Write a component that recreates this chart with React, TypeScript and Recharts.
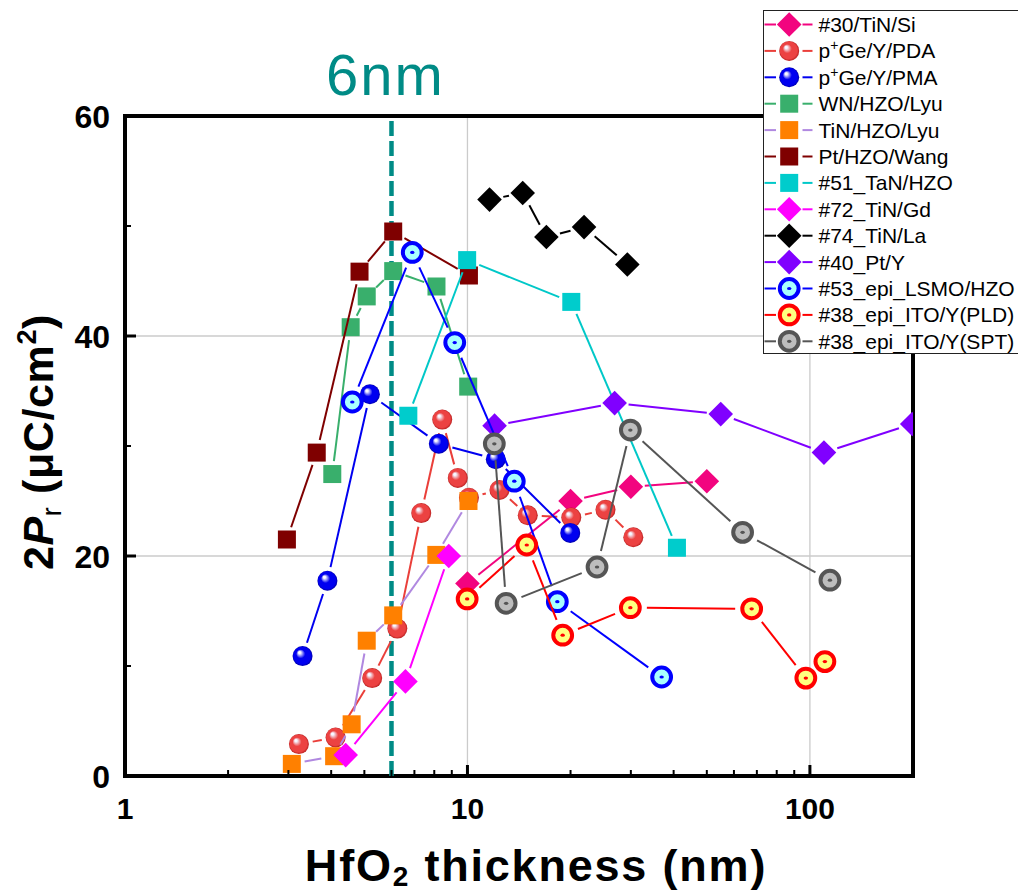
import React from 'react';
import {
  ScatterChart,
  Scatter,
  XAxis,
  YAxis,
  CartesianGrid,
  ReferenceLine,
  ReferenceArea,
  Legend,
} from 'recharts';

const FONT = '"Liberation Sans", Arial, Helvetica, sans-serif';

// ---------------- data (HfO2 thickness in nm, 2Pr in uC/cm2) ----------------
const tinSiX = [10, 20, 30, 50];
const tinSiY = [17.5, 25.0, 26.3, 26.8];

const pdaX = [3.22, 4.12, 5.27, 6.24, 7.33, 8.44, 9.37, 10.1, 12.4, 15.0, 20.1, 25.3, 30.5];
const pdaY = [2.9, 3.5, 8.9, 13.4, 23.9, 32.4, 27.1, 25.3, 26.0, 23.7, 23.5, 24.2, 21.7];

const pmaX = [3.3, 3.9, 5.19, 8.25, 12.1, 19.96];
const pmaY = [10.9, 17.75, 34.7, 30.2, 28.8, 22.1];

const wnX = [4.03, 4.56, 5.08, 6.07, 8.12, 10.05];
const wnY = [27.45, 40.8, 43.6, 45.9, 44.5, 35.4];

const tinHzoX = [3.07, 4.08, 4.59, 5.08, 6.07, 8.11, 10.07];
const tinHzoY = [1.1, 1.8, 4.7, 12.3, 14.6, 20.1, 25.0];

const ptHzoX = [2.97, 3.63, 4.84, 6.07, 10.1];
const ptHzoY = [21.5, 29.4, 45.85, 49.5, 45.5];

const tanX = [6.72, 9.98, 20.1, 40.9];
const tanY = [32.75, 46.9, 43.1, 20.75];

const gdX = [4.41, 6.59, 8.82];
const gdY = [1.9, 8.6, 20.0];

const laX = [11.6, 14.5, 17.0, 21.9, 29.3];
const laY = [52.4, 53.0, 49.0, 49.9, 46.5];

const ptYX = [12.0, 26.9, 54.9, 109.9, 199];
const ptYY = [31.85, 33.9, 32.9, 29.4, 32.0];

const lsmoX = [4.61, 6.9, 9.18, 13.7, 18.3, 36.9];
const lsmoY = [34.0, 47.6, 39.4, 26.8, 15.85, 9.0];

const pldX = [9.98, 14.9, 18.97, 29.9, 67.6, 97.3, 110.6];
const pldY = [16.1, 21.0, 12.8, 15.3, 15.2, 8.9, 10.4];

const sptX = [11.98, 12.97, 23.9, 29.9, 63.6, 114.4];
const sptY = [30.2, 15.7, 19.0, 31.45, 22.15, 17.8];

// ticks
const xTicks = [1, 2, 3, 4, 5, 6, 7, 8, 9, 10, 20, 30, 40, 50, 60, 70, 80, 90, 100, 200];
const xLabels = [1, 10, 100];
const yTicks = [0, 10, 20, 30, 40, 50, 60];
const yLabels = [0, 20, 40, 60];

const zip = (xs: number[], ys: number[]) => xs.map((x, i) => ({ x, y: ys[i] }));

type Kind = 'diamond' | 'square' | 'sphere' | 'ring';
interface Series {
  name: React.ReactNode;
  key: string;
  data: { x: number; y: number }[];
  kind: Kind;
  fill: string;
  line: string;
  stroke?: string;
  grad?: string;
  dark?: string;
}

const series: Series[] = [
  { key: 's30', name: '#30/TiN/Si', data: zip(tinSiX, tinSiY), kind: 'diamond', fill: '#F2047F', line: '#F2047F' },
  {
    key: 'pda',
    name: (
      <>
        p<tspan dy={-8} fontSize={14}>+</tspan>
        <tspan dy={8}>Ge/Y/PDA</tspan>
      </>
    ),
    data: zip(pdaX, pdaY), kind: 'sphere', fill: '#EC4242', line: '#EA3F3A', grad: 'gradRed', dark: '#B82020',
  },
  {
    key: 'pma',
    name: (
      <>
        p<tspan dy={-8} fontSize={14}>+</tspan>
        <tspan dy={8}>Ge/Y/PMA</tspan>
      </>
    ),
    data: zip(pmaX, pmaY), kind: 'sphere', fill: '#0000F0', line: '#0000F0', grad: 'gradBlue', dark: '#0000A8',
  },
  { key: 'wn', name: 'WN/HZO/Lyu', data: zip(wnX, wnY), kind: 'square', fill: '#39AF6C', line: '#39AF6C' },
  { key: 'tinhzo', name: 'TiN/HZO/Lyu', data: zip(tinHzoX, tinHzoY), kind: 'square', fill: '#FF8000', line: '#B088E0' },
  { key: 'pthzo', name: 'Pt/HZO/Wang', data: zip(ptHzoX, ptHzoY), kind: 'square', fill: '#7F0000', line: '#7F0000' },
  { key: 'tan', name: '#51_TaN/HZO', data: zip(tanX, tanY), kind: 'square', fill: '#00CCCC', line: '#00C8C8' },
  { key: 'gd', name: '#72_TiN/Gd', data: zip(gdX, gdY), kind: 'diamond', fill: '#FF00FF', line: '#FF00FF' },
  { key: 'la', name: '#74_TiN/La', data: zip(laX, laY), kind: 'diamond', fill: '#000000', line: '#000000' },
  { key: 'pty', name: '#40_Pt/Y', data: zip(ptYX, ptYY), kind: 'diamond', fill: '#8000FF', line: '#8000FF' },
  { key: 'lsmo', name: '#53_epi_LSMO/HZO', data: zip(lsmoX, lsmoY), kind: 'ring', fill: '#A8FFFF', stroke: '#0000FF', line: '#0000FF' },
  { key: 'pld', name: '#38_epi_ITO/Y(PLD)', data: zip(pldX, pldY), kind: 'ring', fill: '#FFFF80', stroke: '#FF0000', line: '#FF0000' },
  { key: 'spt', name: '#38_epi_ITO/Y(SPT)', data: zip(sptX, sptY), kind: 'ring', fill: '#BDBDBD', stroke: '#555555', line: '#555555' },
];

const gapFor: Record<Kind, number> = { diamond: 14, square: 13, sphere: 14, ring: 16.5 };

function Marker({ s, cx, cy }: { s: Series; cx: number; cy: number }) {
  if (cx == null || cy == null || isNaN(cx) || isNaN(cy)) return null;
  switch (s.kind) {
    case 'diamond': {
      const h = 12.3;
      return (
        <polygon
          points={`${cx},${cy - h} ${cx + h},${cy} ${cx},${cy + h} ${cx - h},${cy}`}
          fill={s.fill}
        />
      );
    }
    case 'square':
      return <rect x={cx - 9} y={cy - 9} width={18} height={18} fill={s.fill} />;
    case 'sphere':
      return (
        <g>
          <defs>
            <radialGradient id={s.grad + 'b'} cx="0.5" cy="0.5" r="0.5" fx="0.33" fy="0.3">
              <stop offset="0" stopColor="#FFFFFF" />
              <stop offset="0.12" stopColor="#F4F4FF" />
              <stop offset="0.45" stopColor={s.fill} />
              <stop offset="0.85" stopColor={s.fill} />
              <stop offset="1" stopColor={s.dark} />
            </radialGradient>
          </defs>
          <circle cx={cx} cy={cy} r={10} fill={`url(#${s.grad}b)`} />
        </g>
      );
    case 'ring':
      return (
        <g>
          <circle cx={cx} cy={cy} r={9.4} fill={s.fill} stroke={s.stroke} strokeWidth={4} />
          <ellipse cx={cx} cy={cy} rx={2.2} ry={1.6} fill={s.stroke} />
        </g>
      );
  }
  return null;
}

const makeLine = (color: string, gap: number) => (props: any) => {
  const pts: { x: number; y: number }[] = (props.points || []).map((p: any) => ({
    x: p.x != null ? p.x : p.cx,
    y: p.y != null ? p.y : p.cy,
  }));
  const segs: React.ReactNode[] = [];
  for (let i = 0; i < pts.length - 1; i++) {
    const a = pts[i];
    const b = pts[i + 1];
    const dx = b.x - a.x;
    const dy = b.y - a.y;
    const d = Math.hypot(dx, dy);
    if (!(d > 2 * gap)) continue;
    const ux = dx / d;
    const uy = dy / d;
    segs.push(
      <line
        key={i}
        x1={a.x + ux * gap}
        y1={a.y + uy * gap}
        x2={b.x - ux * gap}
        y2={b.y - uy * gap}
        stroke={color}
        strokeWidth={2}
      />
    );
  }
  return <g>{segs}</g>;
};

const XTick = (props: any) => {
  const { x, y, payload } = props;
  const v = payload.value;
  const major = xLabels.includes(v);
  return (
    <g>
      <line x1={x} x2={x} y1={y} y2={y - (major ? 11 : 6)} stroke="#000" strokeWidth={major ? 3 : 2} />
      {major && (
        <text x={x} y={y + 43} textAnchor="middle" fontFamily={FONT} fontWeight="bold" fontSize={30} fill="#000">
          {v}
        </text>
      )}
    </g>
  );
};

const YTick = (props: any) => {
  const { x, y, payload } = props;
  const v = payload.value;
  const major = yLabels.includes(v);
  return (
    <g>
      <line x1={x} x2={x + (major ? 11 : 6)} y1={y} y2={y} stroke="#000" strokeWidth={major ? 3 : 2} />
      {major && (
        <text x={x - 15} y={y + 11.5} textAnchor="end" fontFamily={FONT} fontWeight="bold" fontSize={32} fill="#000">
          {v}
        </text>
      )}
    </g>
  );
};

const XTitle = (props: any) => {
  const vb = props.viewBox || {};
  const cx = vb.x + vb.width / 2 + 17;
  const y = vb.y + 105;
  return (
    <text
      x={cx}
      y={y}
      textAnchor="middle"
      fontFamily={FONT}
      fontWeight="bold"
      fontSize={45}
      letterSpacing={1.8}
      fill="#000"
    >
      HfO<tspan fontSize={28} dy={5}>2</tspan>
      <tspan dy={-5}> thickness (nm)</tspan>
    </text>
  );
};

const YTitle = (props: any) => {
  const vb = props.viewBox || {};
  const x = 45;
  const y = vb.y + vb.height / 2 - 4;
  return (
    <text
      x={x}
      y={y}
      transform={`rotate(-90, ${x}, ${y})`}
      textAnchor="middle"
      fontFamily={FONT}
      fontWeight="bold"
      fontSize={43}
      letterSpacing={0.6}
      fill="#000"
    >
      2<tspan fontStyle="italic">P</tspan>
      <tspan fontSize={27} fontWeight="normal" dy={8}>r</tspan>
      <tspan dy={-8}> (μC/cm</tspan>
      <tspan fontSize={27} dy={-17}>2</tspan>
      <tspan dy={17}>)</tspan>
    </text>
  );
};

const SixNmLabel = (props: any) => {
  const vb = props.viewBox || {};
  return (
    <text
      x={vb.x - 6}
      y={vb.y - 21}
      textAnchor="middle"
      fontFamily={FONT}
      fontSize={58}
      letterSpacing={2}
      fill="#008B86"
    >
      6nm
    </text>
  );
};

const LegendBox = () => {
  const rowH = 26.4;
  return (
    <div
      style={{
        width: 300,
        height: 344,
        boxSizing: 'border-box',
        border: '1.5px solid #222',
        background: '#fff',
      }}
    >
      <svg width={297} height={341} style={{ display: 'block', overflow: 'visible' }}>
        {series.map((s, i) => {
          const cy = 13.5 + rowH * i;
          return (
            <g key={s.key}>
              <line x1={0.5} x2={12} y1={cy} y2={cy} stroke={s.line} strokeWidth={2} />
              <line x1={38.5} x2={48.5} y1={cy} y2={cy} stroke={s.line} strokeWidth={2} />
              <Marker s={s} cx={25.2} cy={cy} />
              <text x={54.5} y={cy + 7.5} fontFamily={FONT} fontSize={21} fill="#000">
                {s.name}
              </text>
            </g>
          );
        })}
      </svg>
    </div>
  );
};

export default function App() {
  const W = 1010;
  const H = 887;
  return (
    <div style={{ position: 'absolute', left: 8, top: 8, width: W, height: H, overflow: 'hidden', background: '#fff' }}>
      <ScatterChart width={W} height={H} margin={{ top: 108, right: 105, bottom: 118, left: 116 }}>
        <CartesianGrid
          horizontalValues={[20, 40]}
          verticalValues={[10, 100]}
          stroke="#CBCBCB"
          strokeWidth={1.3}
        />
        <XAxis
          dataKey="x"
          type="number"
          scale="log"
          domain={[1, 200]}
          allowDataOverflow
          ticks={xTicks}
          interval={0}
          height={1}
          tickSize={0}
          tickMargin={0}
          tickLine={false}
          axisLine={false}
          tick={<XTick />}
          label={XTitle}
        />
        <YAxis
          dataKey="y"
          type="number"
          domain={[0, 60]}
          allowDataOverflow
          ticks={yTicks}
          interval={0}
          width={1}
          tickSize={0}
          tickMargin={0}
          tickLine={false}
          axisLine={false}
          tick={<YTick />}
          label={YTitle}
        />
        <ReferenceLine
          x={6}
          stroke="#008B86"
          strokeWidth={4.5}
          strokeDasharray="15 5"
          label={SixNmLabel}
        />
        {series.map((s) => (
          <Scatter
            key={s.key}
            name={s.key}
            data={s.data}
            fill={s.fill}
            isAnimationActive={false}
            line={makeLine(s.line, gapFor[s.kind])}
            shape={(p: any) => <Marker s={s} cx={p.cx} cy={p.cy} />}
          />
        ))}
        <ReferenceArea x1={1} x2={200} y1={0} y2={60} fill="none" stroke="#000" strokeWidth={4} ifOverflow="visible" />
        <Legend
          layout="horizontal"
          verticalAlign="middle"
          align="center"
          content={() => <LegendBox />}
          wrapperStyle={{ left: 755, top: 2, width: 300, height: 344 }}
        />
      </ScatterChart>
    </div>
  );
}
